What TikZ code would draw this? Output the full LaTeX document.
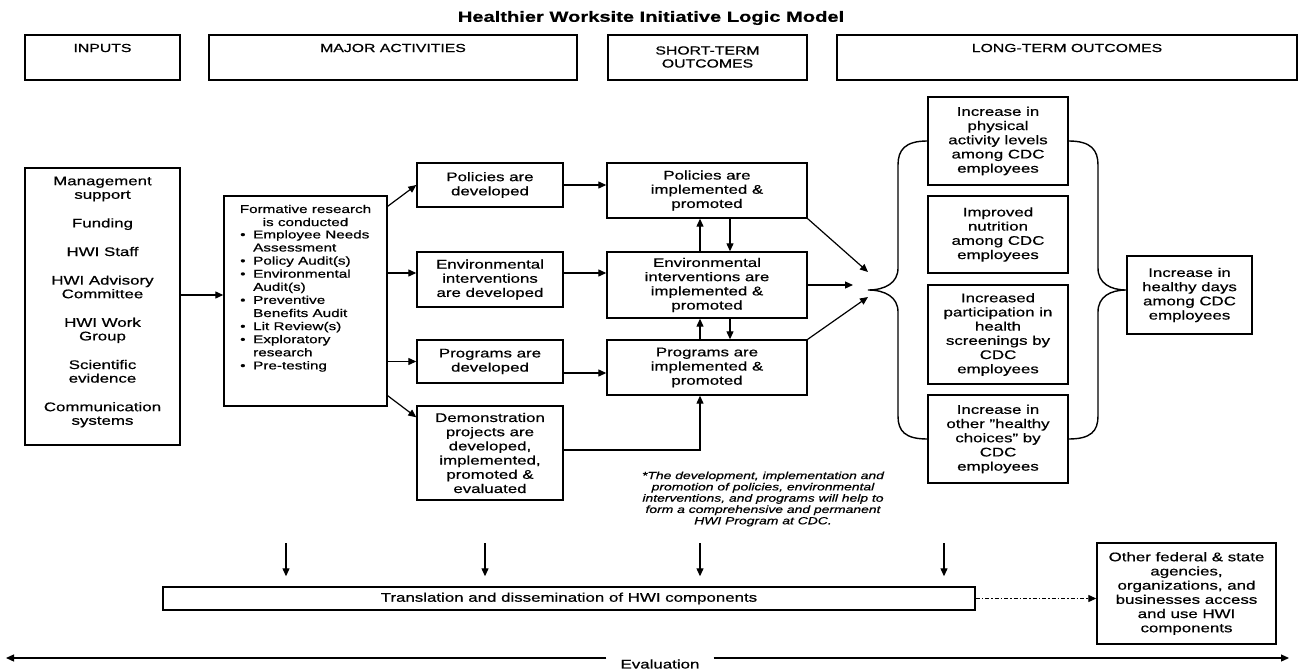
\documentclass[tikz,border=0pt]{standalone}
\usepackage{fontspec}
\setmainfont{Liberation Sans}[FakeStretch=1.35, FakeBold=0.6]
\usetikzlibrary{arrows.meta,calc}
\newcommand\fsz[2]{\fontsize{#1pt}{#2pt}\selectfont}
\begin{document}
\begin{tikzpicture}[x=1pt,y=-1pt,
  bx/.style={draw, line width=1.4pt, inner sep=0pt, align=center, font=\fsz{12.5}{14.2}},
  hbx/.style={draw, line width=1.4pt, inner sep=0pt},
  htx/.style={inner sep=0pt, align=center, font=\fsz{11.7}{13}},
  arr/.style={line width=1.2pt, -{Triangle[length=8pt,width=7pt]}},
  brc/.style={line width=1.4pt},
]
\fill[white] (0,0) rectangle (1301,671);
\useasboundingbox (0,0) rectangle (1301,671);

% title
\node[font=\bfseries\fsz{14.9}{17}, inner sep=0pt] (title) at (651,18) {Healthier Worksite Initiative Logic Model};

% headers
\node[hbx, minimum width=155pt, minimum height=45pt] (hin) at (102.5,57.5) {};
\node[htx] (hint) at (102.5,48) {INPUTS};
\node[hbx, minimum width=368pt, minimum height=45pt] (hma) at (393,57.5) {};
\node[htx] (hmat) at (393,48) {MAJOR ACTIVITIES};
\node[hbx, minimum width=199pt, minimum height=45pt] (hst) at (707.5,57.5) {};
\node[htx] (hstt) at (707.5,57) {SHORT-TERM\\OUTCOMES};
\node[hbx, minimum width=460pt, minimum height=45pt] (hlt) at (1067,57.5) {};
\node[htx] (hltt) at (1067,48) {LONG-TERM OUTCOMES};

% inputs
\node[hbx, minimum width=155pt, minimum height=277pt] (inp) at (102.5,306.5) {};
\node[inner sep=0pt, align=center, font=\fsz{12.5}{13.6}] (inpt) at (102.5,302) {Management\\support\\[15pt]Funding\\[15pt]HWI Staff\\[15pt]HWI Advisory\\Committee\\[15pt]HWI Work\\Group\\[15pt]Scientific\\evidence\\[15pt]Communication\\systems};

% formative research
\node[hbx, minimum width=163pt, minimum height=210pt] (form) at (305.5,301) {};
\node[inner sep=0pt, align=center, font=\fsz{11.3}{13.1}] (formh) at (305.5,215.5) {Formative research\\is conducted};
\node[inner sep=0pt, align=left, font=\fsz{11.3}{13.1}, anchor=north west] (formi) at (240,230) {%
\makebox[13pt][l]{•}Employee Needs\\\hspace*{13pt}Assessment\\
\makebox[13pt][l]{•}Policy Audit(s)\\
\makebox[13pt][l]{•}Environmental\\\hspace*{13pt}Audit(s)\\
\makebox[13pt][l]{•}Preventive\\\hspace*{13pt}Benefits Audit\\
\makebox[13pt][l]{•}Lit Review(s)\\
\makebox[13pt][l]{•}Exploratory\\\hspace*{13pt}research\\
\makebox[13pt][l]{•}Pre-testing};

% major activities
\node[bx, minimum width=146pt, minimum height=44pt] (pd) at (490,185) {Policies are\\developed};
\node[bx, minimum width=146pt, minimum height=55pt] (ed) at (490,279.5) {Environmental\\interventions\\are developed};
\node[bx, minimum width=146pt, minimum height=43pt] (gd) at (490,361.5) {Programs are\\developed};
\node[bx, minimum width=146pt, minimum height=94pt] (dd) at (490,453) {Demonstration\\projects are\\developed,\\implemented,\\promoted \&\\evaluated};

% short-term outcomes
\node[bx, minimum width=200pt, minimum height=55pt] (pi) at (707,190.5) {Policies are\\implemented \&\\promoted};
\node[bx, minimum width=200pt, minimum height=66pt] (ei) at (707,285) {Environmental\\interventions are\\implemented \&\\promoted};
\node[bx, minimum width=200pt, minimum height=55pt] (gi) at (707,367.5) {Programs are\\implemented \&\\promoted};

% long-term outcomes
\node[bx, minimum width=140pt, minimum height=88pt] (lt1) at (998,141) {Increase in\\physical\\activity levels\\among CDC\\employees};
\node[bx, minimum width=140pt, minimum height=77pt] (lt2) at (998,234.5) {Improved\\nutrition\\among CDC\\employees};
\node[bx, minimum width=140pt, minimum height=99pt] (lt3) at (998,334.5) {Increased\\participation in\\health\\screenings by\\CDC\\employees};
\node[bx, minimum width=140pt, minimum height=88pt] (lt4) at (998,439) {Increase in\\other "healthy\\choices" by\\CDC\\employees};
\node[bx, minimum width=125pt, minimum height=78pt] (hd) at (1189.5,295) {Increase in\\healthy days\\among CDC\\employees};

% footnote
\node[inner sep=0pt, align=center, font=\itshape\fsz{10.3}{11.3}] (fn) at (763,499) {*The development, implementation and\\promotion of policies, environmental\\interventions, and programs will help to\\form a comprehensive and permanent\\HWI Program at CDC.};

% bottom
\node[bx, minimum width=812pt, minimum height=23pt] (tr) at (569,598.5) {Translation and dissemination of HWI components};
\node[bx, minimum width=179pt, minimum height=101pt] (oth) at (1186.5,593.5) {Other federal \& state\\agencies,\\organizations, and\\businesses access\\and use HWI\\components};
\node[inner sep=0pt, inner xsep=14pt, font=\fsz{12.5}{14}] (ev) at (660,664) {Evaluation};

% helper coordinates
\coordinate (y273) at (0,273);
\coordinate (y295) at (0,295);
\coordinate (y373) at (0,373);
\coordinate (y450) at (0,450);
\coordinate (y290) at (0,290);
\coordinate (c700) at (700,0);
\coordinate (c730) at (730,0);
\coordinate (a1) at (868,272);
\coordinate (a2) at (853,285);
\coordinate (a3) at (868,297);
\coordinate (evl) at (6,658);
\coordinate (evr) at (1289,658);
\coordinate (trtop) at ([yshift=10pt]tr.north);

% connectors
\draw[arr] (inp.east |- y295) -- (form.west |- y295);
\draw[arr] ([yshift=-11pt]form.north east) -- (pd.west);
\draw[arr] (form.east |- y273) -- (ed.west |- y273);
\draw[arr] (form.east |- gd.west) -- (gd.west);
\draw[arr] ([yshift=11pt]form.south east) -- ([yshift=-12pt]dd.north west);

\draw[arr] (pd.east) -- (pd.east -| pi.west);
\draw[arr] (ed.east |- y273) -- (ei.west |- y273);
\draw[arr] (gd.east |- y373) -- (gi.west |- y373);
\draw[arr] (dd.east |- y450) -| (c700 |- gi.south);

\draw[arr] (ei.north -| c700) -- (pi.south -| c700);
\draw[arr] (pi.south -| c730) -- (ei.north -| c730);
\draw[arr] (gi.north -| c700) -- (ei.south -| c700);
\draw[arr] (ei.south -| c730) -- (gi.north -| c730);

\draw[arr] (pi.south east) -- (a1);
\draw[arr] (ei.east) -- (a2);
\draw[arr] (gi.north east) -- (a3);

% braces
\draw[brc] (lt1.west) .. controls (905,141) and (898,150) .. (898,165) -- (898,268)
  .. controls (898,283) and (885,290) .. (868,290)
  .. controls (885,290) and (898,297) .. (898,312) -- (898,416)
  .. controls (898,431) and (905,439) .. (lt4.west);
\draw[brc] (lt1.east) .. controls (1091,141) and (1098,150) .. (1098,165) -- (1098,268)
  .. controls (1098,283) and (1110,290) .. (hd.west |- y290)
  .. controls (1110,290) and (1098,297) .. (1098,312) -- (1098,416)
  .. controls (1098,431) and (1091,439) .. (lt4.east);

% down arrows to translation
\foreach \x [count=\i] in {286,485,700,944} {
  \coordinate (d\i) at (\x,543);
  \draw[arr] (d\i) -- (trtop -| d\i);
}

\draw[line width=1.2pt, dash pattern=on 4pt off 2pt on 1.5pt off 2pt, -{Triangle[length=8pt,width=7pt]}] (tr.east) -- (tr.east -| oth.west);

% evaluation
\draw[arr] (ev.west |- evl) -- (evl);
\draw[arr] (ev.east |- evr) -- (evr);
\end{tikzpicture}
\end{document}
